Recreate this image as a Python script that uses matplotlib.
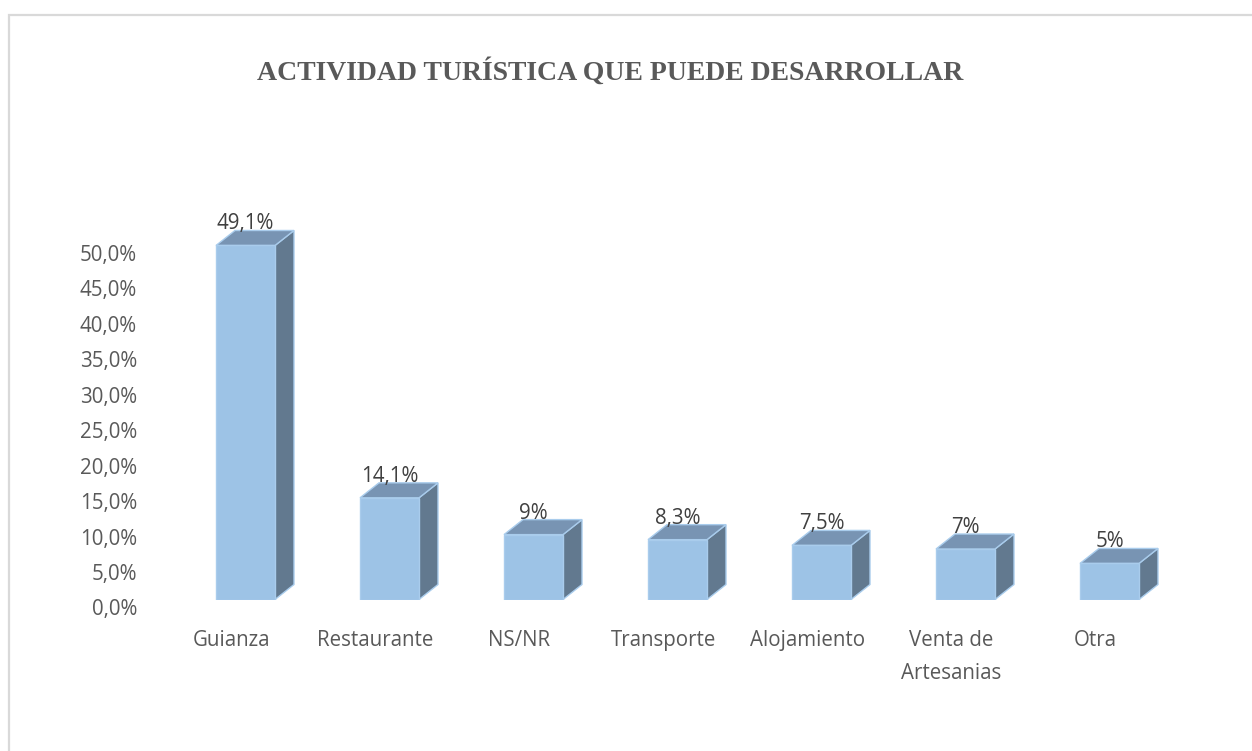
import matplotlib
matplotlib.use("Agg")
import matplotlib.pyplot as plt
from matplotlib.patches import Polygon, Rectangle
from matplotlib.ticker import FuncFormatter, MultipleLocator
from matplotlib.transforms import ScaledTranslation

# ---- data ----
categories = ["Guianza", "Restaurante", "NS/NR", "Transporte", "Alojamiento",
              "Venta de\nArtesanias", "Otra"]
values = [49.1, 14.1, 9.0, 8.3, 7.5, 7.0, 5.0]
value_labels = ["49,1%", "14,1%", "9%", "8,3%", "7,5%", "7%", "5%"]
title = "ACTIVIDAD TURÍSTICA QUE PUEDE DESARROLLAR"

# ---- style ----
W_PX, H_PX = 1252, 751
FRONT = "#9DC3E6"
TOP = "#7894B3"
SIDE = "#62798F"
EDGE = "#A9CCEC"
TXT = "#595959"
VAL_TXT = "#404040"
DEPTH_X_PX = 19
DEPTH_Y_PX = 15
FONT = "Open Sans"
FS = 14.8

fig = plt.figure(figsize=(W_PX / 100, H_PX / 100), dpi=100)
fig.patch.set_facecolor("white")

def fx(px):
    return px / W_PX

def fy(px):
    return 1 - px / H_PX

# chart border (light gray frame, cut at right/bottom)
fig.add_artist(Rectangle((fx(9), fy(H_PX + 20)), fx(W_PX + 40), fy(15) - fy(H_PX + 20),
                         transform=fig.transFigure, fill=False,
                         edgecolor="#D9D9D9", linewidth=1.6))

# title
fig.text(fx(610), fy(72), title, ha="center", va="center",
         fontfamily="Liberation Serif", fontweight="bold", fontsize=20, color=TXT)

# ---- bars axes ----
x_left_px, x_right_px = 173.5, 1181.5
ymax = 55
px_per_unit_y = 7.21
y0_px = 599.5
y_top_px = y0_px - ymax * px_per_unit_y
ax = fig.add_axes([fx(x_left_px), fy(y0_px), fx(x_right_px - x_left_px),
                   fy(y_top_px) - fy(y0_px)])
ax.set_xlim(-0.5, len(categories) - 0.5)
ax.set_ylim(0, ymax)
for s in ax.spines.values():
    s.set_visible(False)
ax.set_yticks([])
ax.patch.set_alpha(0)

fig.canvas.draw()
inv = ax.transData.inverted()
p0 = inv.transform(ax.transData.transform((0, 0)))
p1 = inv.transform(ax.transData.transform((0, 0)) + [DEPTH_X_PX, DEPTH_Y_PX])
dx, dy = p1 - p0

w = 59 / 144.0
xs = list(range(len(categories)))
for x, v, lab in zip(xs, values, value_labels):
    l, r = x - w / 2, x + w / 2
    side = Polygon([(r, 0), (r + dx, dy), (r + dx, v + dy), (r, v)], closed=True,
                   facecolor=SIDE, edgecolor=EDGE, linewidth=1.0, zorder=2)
    top = Polygon([(l, v), (r, v), (r + dx, v + dy), (l + dx, v + dy)], closed=True,
                  facecolor=TOP, edgecolor=EDGE, linewidth=1.0, zorder=2)
    ax.add_patch(side)
    ax.add_patch(top)
    ax.annotate(lab, (x, v), xytext=(0, DEPTH_Y_PX + 1), textcoords="offset pixels",
                ha="center", va="baseline", fontsize=FS, color=VAL_TXT,
                fontfamily=FONT, annotation_clip=False)

ax.bar(xs, values, width=w, color=FRONT, edgecolor=EDGE, linewidth=1.0, zorder=3)

ax.set_xticks(xs)
ax.set_xticklabels(categories, fontfamily=FONT, fontsize=FS, color=TXT,
                   linespacing=1.75)
ax.tick_params(axis="x", length=0, pad=22)
for t in ax.get_xticklabels():
    t.set_transform(t.get_transform() + ScaledTranslation(-14 / 100, 0, fig.dpi_scale_trans))

# ---- value-axis (tick labels) axes ----
t0_px, t50_px = 607.5, 253.0
ax2 = fig.add_axes([fx(x_left_px), fy(t0_px), fx(x_right_px - x_left_px),
                    fy(t50_px) - fy(t0_px)])
ax2.set_ylim(0, 50)
ax2.set_xlim(0, 1)
ax2.patch.set_alpha(0)
for s in ax2.spines.values():
    s.set_visible(False)
ax2.set_xticks([])
ax2.yaxis.set_major_locator(MultipleLocator(5))
ax2.yaxis.set_major_formatter(FuncFormatter(lambda v, p: f"{v:.1f}%".replace(".", ",")))
ax2.tick_params(axis="y", length=0, pad=(x_left_px - 137) * 72 / 100,
                labelsize=FS, labelcolor=TXT)
for t in ax2.get_yticklabels():
    t.set_fontfamily(FONT)
ax.set_zorder(3)

fig.savefig("out.png", dpi=100, facecolor="white")
